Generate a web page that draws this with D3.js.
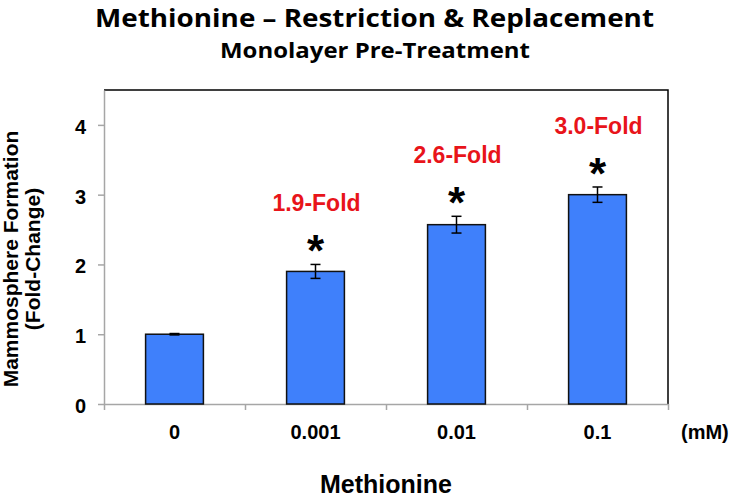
<!DOCTYPE html>
<html>
<head>
<meta charset="utf-8">
<script src="https://cdn.jsdelivr.net/npm/d3@7"></script>
<style>
  html, body { margin: 0; padding: 0; background: #fff; }
  svg { display: block; }
  text { font-family: Arial, "Liberation Sans", Helvetica, sans-serif; }
</style>
</head>
<body>
<svg id="chart" width="733" height="497"></svg>
<script>
// ---- data ----
const categories = ["0", "0.001", "0.01", "0.1"];
const values = [1.0, 1.9, 2.57, 3.0];
const errors = [0.01, 0.1, 0.12, 0.11];
const foldLabels = ["", "1.9-Fold", "2.6-Fold", "3.0-Fold"];
const significant = [false, true, true, true];
const yTicks = [0, 1, 2, 3, 4];
const titleText = "Methionine \u2013 Restriction & Replacement";
const subtitleText = "Monolayer Pre-Treatment";
const yTitleLines = ["Mammosphere Formation", "(Fold-Change)"];
const xTitle = "Methionine";
const unitLabel = "(mM)";

(function () {
// ---- layout ----
const svg = d3.select("#chart");
const pl = 104, pr = 668, pt = 90, pb = 404;
const barColor = "#3f80fb";
const red = "#e8141a";
const axisGray = "#a6a6a6";

const x = d3.scaleBand().domain(categories).range([pl, pr])
  .paddingInner(0.59).paddingOuter(0.295);
const y = d3.scaleLinear().domain([0, 4.5]).range([pb, pt]);
const xEdges = d3.scaleLinear().domain([0, categories.length]).range([pl, pr]);

// titles
svg.append("text").attr("x", 374.5).attr("y", 27)
  .attr("text-anchor", "middle")
  .attr("textLength", 559).attr("lengthAdjust", "spacingAndGlyphs")
  .style("font-family", "'Open Sans', sans-serif")
  .style("font-weight", "bold").style("font-size", "25px")
  .text(titleText);
svg.append("text").attr("x", 375).attr("y", 58)
  .attr("text-anchor", "middle")
  .attr("textLength", 310).attr("lengthAdjust", "spacingAndGlyphs")
  .style("font-family", "'Open Sans', sans-serif")
  .style("font-weight", "bold").style("font-size", "21px")
  .text(subtitleText);

// frame top & right (black)
svg.append("path")
  .attr("d", `M${pl},${pt}H${pr}V${pb}`)
  .attr("fill", "none").attr("stroke", "#000").attr("stroke-width", 1.5);

// y axis
const yAxis = svg.append("g").attr("transform", `translate(${pl},0)`)
  .call(d3.axisLeft(y).tickValues(yTicks).tickFormat(d3.format("d"))
    .tickSizeInner(6).tickSizeOuter(0).tickPadding(12));
yAxis.select(".domain").attr("stroke", axisGray).attr("stroke-width", 1.5);
yAxis.selectAll(".tick line").attr("stroke", axisGray).attr("stroke-width", 1.5);
yAxis.selectAll(".tick text")
  .attr("dy", "0.42em")
  .style("font-family", "Arial, 'Liberation Sans', sans-serif")
  .style("font-size", "20px").style("font-weight", "bold").attr("fill", "#000");

// x axis with boundary ticks
const xAxisTicks = svg.append("g").attr("transform", `translate(0,${pb})`)
  .call(d3.axisBottom(xEdges).tickValues(d3.range(categories.length + 1))
    .tickFormat("").tickSizeInner(6).tickSizeOuter(0));
xAxisTicks.select(".domain").attr("stroke", axisGray).attr("stroke-width", 1.5);
xAxisTicks.selectAll(".tick line").attr("stroke", axisGray).attr("stroke-width", 1.5);

const xAxisLabels = svg.append("g").attr("transform", `translate(0,${pb})`)
  .call(d3.axisBottom(x).tickSize(0).tickPadding(21));
xAxisLabels.select(".domain").remove();
xAxisLabels.selectAll(".tick text")
  .style("font-family", "Arial, 'Liberation Sans', sans-serif")
  .style("font-size", "20px").style("font-weight", "bold").attr("fill", "#000");

svg.append("text").attr("x", 681).attr("y", 439)
  .style("font-size", "20px").style("font-weight", "bold")
  .text(unitLabel);

// bars
const data = categories.map((c, i) => ({
  c, v: values[i], e: errors[i], lab: foldLabels[i], sig: significant[i]
}));

svg.append("g").selectAll("rect").data(data).join("rect")
  .attr("x", d => x(d.c))
  .attr("y", d => y(d.v))
  .attr("width", x.bandwidth())
  .attr("height", d => y(0) - y(d.v))
  .attr("fill", barColor)
  .attr("stroke", "#111").attr("stroke-width", 1.5);

// error bars
const eb = svg.append("g").attr("stroke", "#000").attr("stroke-width", 1.5);
data.forEach(d => {
  const cx = x(d.c) + x.bandwidth() / 2;
  const y1 = y(d.v + d.e), y0 = y(d.v - d.e);
  eb.append("line").attr("x1", cx).attr("x2", cx).attr("y1", y1).attr("y2", y0);
  eb.append("line").attr("x1", cx - 5).attr("x2", cx + 5).attr("y1", y1).attr("y2", y1);
  eb.append("line").attr("x1", cx - 5).attr("x2", cx + 5).attr("y1", y0).attr("y2", y0);
});

// asterisks and fold labels
const ann = svg.append("g");
data.filter(d => d.sig).forEach(d => {
  const cx = x(d.c) + x.bandwidth() / 2;
  const yTop = y(d.v + d.e);
  ann.append("text").attr("x", cx).attr("y", yTop + 2)
    .attr("text-anchor", "middle")
    .style("font-size", "44px").style("font-weight", "bold")
    .attr("fill", "#000").text("*");
  ann.append("text").attr("x", cx + 1).attr("y", yTop - 53)
    .attr("text-anchor", "middle")
    .style("font-size", "23px").style("font-weight", "bold")
    .attr("fill", red).text(d.lab);
});

// y title
const yTitle = svg.append("text")
  .attr("transform", "translate(18,259) rotate(-90)")
  .attr("text-anchor", "middle")
  .style("font-size", "21px").style("font-weight", "bold");
yTitle.append("tspan").attr("x", 0).attr("y", 0).text(yTitleLines[0]);
yTitle.append("tspan").attr("x", 0).attr("y", 22).text(yTitleLines[1]);

// x title
svg.append("text").attr("x", 386).attr("y", 493)
  .attr("text-anchor", "middle")
  .style("font-size", "25px").style("font-weight", "bold")
  .text(xTitle);
})();
</script>
</body>
</html>
